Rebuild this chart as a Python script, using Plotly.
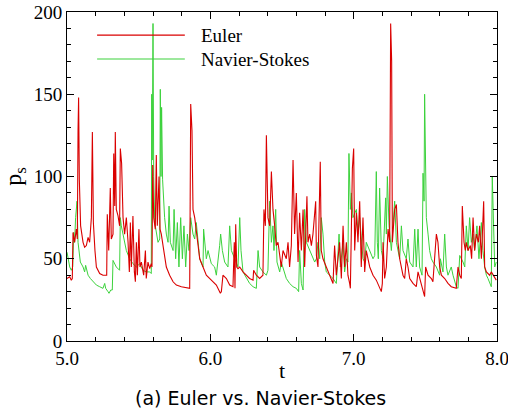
import plotly.graph_objects as go

# Euler series (t, p_s)
euler_t = [5.000, 5.019, 5.030, 5.037, 5.042, 5.053, 5.065, 5.072, 5.077, 5.081, 5.086, 5.095,
           5.112, 5.123, 5.135, 5.147, 5.158, 5.170, 5.177, 5.184, 5.195, 5.205, 5.228, 5.251,
           5.277, 5.281, 5.291, 5.302, 5.309, 5.321, 5.326, 5.333, 5.337, 5.344, 5.356, 5.367,
           5.372, 5.381, 5.391, 5.402, 5.414, 5.426, 5.435, 5.442, 5.449, 5.460, 5.470, 5.477,
           5.484, 5.491, 5.502, 5.509, 5.519, 5.535, 5.547, 5.553, 5.565, 5.577, 5.588, 5.593,
           5.598, 5.605, 5.616, 5.623, 5.630, 5.642, 5.649, 5.658, 5.670, 5.681, 5.693, 5.716,
           5.740, 5.763, 5.798, 5.856, 5.863, 5.872, 5.879, 5.891, 5.902, 5.926, 5.949, 5.972,
           6.007, 6.042, 6.070, 6.077, 6.088, 6.112, 6.135, 6.158, 6.167, 6.172, 6.177, 6.184,
           6.193, 6.205, 6.228, 6.251, 6.274, 6.298, 6.302, 6.321, 6.344, 6.367, 6.374, 6.384,
           6.391, 6.402, 6.414, 6.426, 6.437, 6.449, 6.460, 6.472, 6.484, 6.495, 6.507, 6.530,
           6.542, 6.553, 6.565, 6.577, 6.588, 6.600, 6.612, 6.623, 6.635, 6.647, 6.658, 6.674,
           6.681, 6.693, 6.705, 6.716, 6.735, 6.740, 6.751, 6.767, 6.774, 6.786, 6.809, 6.833,
           6.856, 6.867, 6.879, 6.902, 6.914, 6.926, 6.937, 6.949, 6.960, 6.972, 6.977, 6.991,
           7.000, 7.007, 7.019, 7.030, 7.042, 7.053, 7.065, 7.077, 7.088, 7.112, 7.135, 7.158,
           7.181, 7.193, 7.200, 7.205, 7.216, 7.228, 7.240, 7.251, 7.258, 7.265, 7.270, 7.279,
           7.286, 7.298, 7.309, 7.321, 7.333, 7.344, 7.356, 7.367, 7.379, 7.391, 7.414, 7.437,
           7.449, 7.460, 7.472, 7.484, 7.495, 7.502, 7.519, 7.542, 7.553, 7.577, 7.588, 7.600,
           7.612, 7.635, 7.658, 7.681, 7.716, 7.728, 7.740, 7.751, 7.758, 7.770, 7.779, 7.786,
           7.798, 7.814, 7.823, 7.833, 7.844, 7.856, 7.870, 7.879, 7.891, 7.907, 7.914, 7.926,
           7.949, 7.960, 7.972, 7.995]
euler_p = [38, 39, 37, 38, 66, 60, 68, 62, 128, 148, 98, 70,
           60, 57, 58, 63, 60, 75, 127, 72, 55, 45, 41, 40,
           40, 77, 55, 93, 62, 65, 114, 82, 127, 80, 76, 70,
           117, 108, 75, 65, 75, 60, 42, 72, 45, 76, 42, 36,
           60, 40, 68, 45, 48, 40, 55, 38, 48, 44, 47, 45,
           107, 75, 68, 113, 70, 100, 68, 65, 58, 52, 45, 40,
           36, 34, 33, 32, 144, 128, 80, 75, 68, 50, 45, 40,
           37, 34, 29, 30, 40, 38, 34, 33, 60, 32, 71, 45,
           44, 45, 42, 40, 38, 37, 43, 40, 38, 40, 80, 70,
           125, 75, 70, 103, 80, 70, 58, 60, 52, 45, 55, 50,
           60, 45, 58, 110, 65, 90, 48, 78, 55, 80, 45, 88,
           60, 65, 58, 65, 85, 52, 45, 109, 55, 50, 45, 40,
           35, 58, 40, 60, 38, 70, 45, 60, 40, 35, 32, 105,
           117, 55, 78, 60, 85, 45, 75, 42, 55, 45, 40, 37,
           33, 30, 35, 60, 38, 45, 68, 60, 193, 170, 60, 75,
           80, 83, 60, 50, 45, 40, 38, 50, 45, 38, 35, 33,
           42, 38, 35, 30, 27, 45, 40, 38, 36, 65, 60, 45,
           40, 38, 35, 33, 32, 45, 40, 38, 82, 60, 55, 60,
           55, 58, 50, 75, 55, 65, 60, 70, 50, 85, 45, 42,
           40, 42, 40, 37]

# Navier-Stokes series (t, p_s)
ns_t = [5.000, 5.019, 5.030, 5.040, 5.047, 5.053, 5.060, 5.070, 5.077, 5.084, 5.093, 5.112,
        5.123, 5.130, 5.147, 5.163, 5.181, 5.205, 5.228, 5.251, 5.263, 5.270, 5.286, 5.293,
        5.305, 5.316, 5.321, 5.344, 5.367, 5.372, 5.379, 5.391, 5.402, 5.414, 5.437, 5.460,
        5.484, 5.507, 5.530, 5.553, 5.577, 5.588, 5.591, 5.595, 5.600, 5.605, 5.612, 5.623,
        5.635, 5.647, 5.651, 5.656, 5.660, 5.667, 5.681, 5.693, 5.705, 5.712, 5.721, 5.740,
        5.747, 5.758, 5.770, 5.781, 5.793, 5.805, 5.816, 5.828, 5.840, 5.851, 5.863, 5.879,
        5.891, 5.902, 5.914, 5.926, 5.949, 5.953, 5.972, 5.984, 6.007, 6.030, 6.042, 6.054,
        6.065, 6.072, 6.084, 6.100, 6.123, 6.135, 6.147, 6.170, 6.193, 6.205, 6.214, 6.228,
        6.251, 6.274, 6.298, 6.321, 6.333, 6.344, 6.367, 6.391, 6.402, 6.414, 6.426, 6.437,
        6.444, 6.456, 6.465, 6.484, 6.495, 6.507, 6.519, 6.530, 6.553, 6.577, 6.600, 6.616,
        6.623, 6.635, 6.647, 6.658, 6.670, 6.693, 6.716, 6.728, 6.740, 6.751, 6.763, 6.774,
        6.786, 6.798, 6.809, 6.833, 6.856, 6.879, 6.898, 6.907, 6.926, 6.937, 6.949, 6.960,
        6.967, 6.977, 6.984, 6.995, 7.019, 7.030, 7.042, 7.065, 7.077, 7.088, 7.112, 7.135,
        7.147, 7.158, 7.165, 7.172, 7.181, 7.193, 7.205, 7.223, 7.228, 7.235, 7.247, 7.263,
        7.286, 7.298, 7.321, 7.333, 7.344, 7.367, 7.379, 7.391, 7.414, 7.426, 7.437, 7.449,
        7.460, 7.477, 7.484, 7.491, 7.495, 7.500, 7.507, 7.519, 7.530, 7.542, 7.553, 7.577,
        7.588, 7.600, 7.605, 7.616, 7.623, 7.635, 7.647, 7.658, 7.681, 7.693, 7.705, 7.716,
        7.728, 7.740, 7.763, 7.775, 7.786, 7.798, 7.809, 7.821, 7.833, 7.844, 7.860, 7.874,
        7.891, 7.902, 7.914, 7.926, 7.937, 7.949, 7.960, 7.967, 7.977, 7.984, 7.995]
ns_p = [54, 45, 43, 45, 66, 60, 75, 85, 60, 55, 48, 45,
        42, 46, 40, 38, 36, 34, 33, 32, 35, 32, 30, 29,
        31, 31, 49, 45, 43, 75, 70, 65, 60, 55, 50, 47,
        45, 47, 43, 42, 42, 41, 150, 110, 193, 100, 72, 65,
        60, 62, 153, 100, 142, 98, 75, 65, 60, 82, 60, 55,
        80, 50, 72, 45, 75, 50, 70, 45, 65, 55, 75, 65,
        62, 72, 60, 50, 45, 68, 50, 55, 47, 45, 40, 48,
        58, 65, 55, 48, 45, 70, 55, 50, 45, 75, 55, 42,
        38, 35, 33, 32, 55, 45, 42, 40, 43, 85, 60, 70,
        55, 80, 48, 42, 48, 45, 42, 38, 35, 33, 32, 30,
        55, 35, 31, 80, 60, 55, 50, 48, 50, 60, 50, 75,
        65, 48, 42, 40, 38, 35, 65, 45, 60, 42, 50, 48,
        114, 80, 90, 75, 80, 65, 75, 50, 48, 60, 55, 50,
        52, 103, 60, 50, 93, 55, 50, 87, 65, 100, 70, 55,
        85, 60, 50, 70, 55, 50, 62, 48, 45, 68, 45, 68,
        45, 40, 102, 85, 150, 110, 75, 65, 55, 50, 48, 45,
        42, 40, 50, 45, 42, 65, 45, 40, 45, 40, 37, 33,
        32, 52, 48, 45, 70, 55, 75, 60, 65, 55, 70, 50,
        72, 55, 45, 40, 38, 35, 33, 100, 55, 45, 48]

x_ticks = [5.0, 6.0, 7.0, 8.0]
x_tick_labels = ["5.0", "6.0", "7.0", "8.0"]
y_ticks = [0, 50, 100, 150, 200]
y_tick_labels = ["0", "50", "100", "150", "200"]

RED = "rgb(218,0,0)"
GREEN = "rgb(60,210,60)"
SERIF = "Liberation Serif, Times New Roman, serif"

fig = go.Figure()
fig.add_trace(go.Scatter(x=ns_t, y=ns_p, mode="lines", name="Navier-Stokes",
                         line=dict(color=GREEN, width=1.0), showlegend=False))
fig.add_trace(go.Scatter(x=euler_t, y=euler_p, mode="lines", name="Euler",
                         line=dict(color=RED, width=1.1), showlegend=False))

axis_common = dict(showgrid=False, zeroline=False, showline=True, linecolor="black",
                   linewidth=1, mirror="ticks", ticks="inside", ticklen=7,
                   tickcolor="black", tickwidth=1, ticklabeloverflow="allow",
                   tickfont=dict(family=SERIF, size=19, color="black"))

fig.update_xaxes(range=[5.0, 8.0], tickvals=x_ticks, ticktext=x_tick_labels,
                 minor=dict(ticks="inside", dtick=0.2, ticklen=4, tickcolor="black", showgrid=False),
                 **axis_common)
fig.update_yaxes(range=[0, 200], tickvals=y_ticks, ticktext=y_tick_labels,
                 minor=dict(ticks="inside", dtick=10, ticklen=4, tickcolor="black", showgrid=False),
                 title=dict(text="p<sub>s</sub>", font=dict(family=SERIF, size=24, color="black"), standoff=6),
                 **axis_common)

# x-axis title
fig.add_annotation(xref="paper", yref="paper", x=0.5, y=-0.091, text="t", showarrow=False,
                   xanchor="center", yanchor="middle", font=dict(family=SERIF, size=22, color="black"))

# Manual legend
fig.add_shape(type="line", xref="paper", yref="paper", x0=0.07, x1=0.274, y0=0.930, y1=0.930,
              line=dict(color=RED, width=1.2))
fig.add_shape(type="line", xref="paper", yref="paper", x0=0.07, x1=0.274, y0=0.857, y1=0.857,
              line=dict(color=GREEN, width=1.1))
fig.add_annotation(xref="paper", yref="paper", x=0.306, y=0.930, text="Euler", showarrow=False,
                   xanchor="left", yanchor="middle", font=dict(family=SERIF, size=19, color="black"))
fig.add_annotation(xref="paper", yref="paper", x=0.306, y=0.857, text="Navier-Stokes", showarrow=False,
                   xanchor="left", yanchor="middle", font=dict(family=SERIF, size=19, color="black"))

# Caption
fig.add_annotation(xref="paper", yref="paper", x=0.449, y=-0.172, text="(a) Euler vs. Navier-Stokes",
                   showarrow=False, xanchor="center", yanchor="middle",
                   font=dict(family="DejaVu Sans, sans-serif", size=19, color="black"))

fig.update_layout(width=508, height=415,
                  margin=dict(l=67, r=11, t=12, b=74, autoexpand=False),
                  plot_bgcolor="white", paper_bgcolor="white")

fig.write_html("out.html")
